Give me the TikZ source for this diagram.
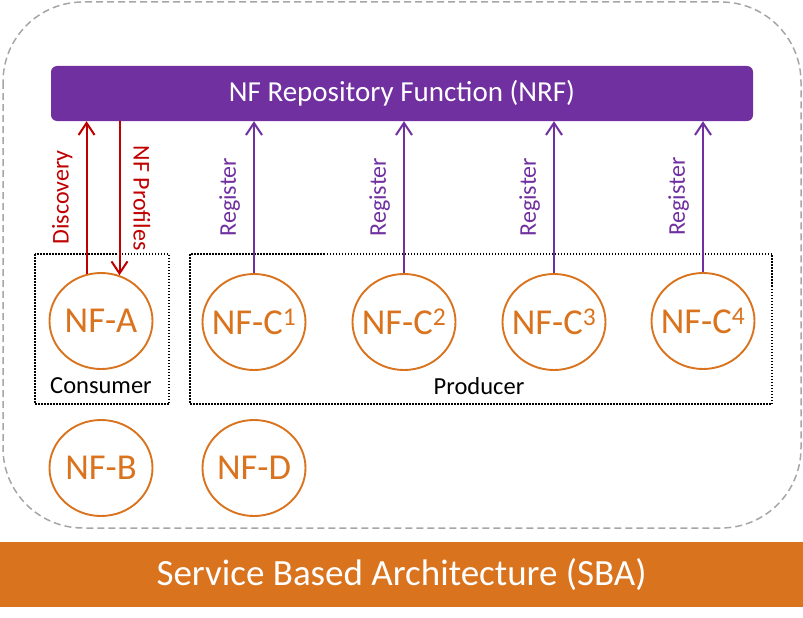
\documentclass[tikz,border=0pt]{standalone}
\usepackage{fontspec}
\setmainfont{Carlito}
\usetikzlibrary{arrows.meta,shapes.geometric}
\definecolor{nrfpurple}{RGB}{112,48,160}
\definecolor{sbaorange}{RGB}{217,115,30}
\definecolor{discred}{RGB}{192,0,0}
\definecolor{edgegray}{RGB}{166,166,166}

\begin{document}
\begin{tikzpicture}[x=1pt,y=-1pt,
  nf/.style={ellipse,draw=sbaorange,line width=1.9pt,minimum width=103pt,minimum height=96pt,inner xsep=-14pt,inner ysep=0pt,text=sbaorange,font=\fontsize{36.5}{40}\selectfont},
  msg/.style={line width=2pt,-{Straight Barb[length=12pt,width=16pt]}},
  msgtext/.style={rotate=90,anchor=south,inner sep=0pt,outer sep=14pt,font=\fontsize{24}{26}\selectfont},
  grouptext/.style={font=\fontsize{24.5}{26}\selectfont},
  groupbox/.style={line width=1.5pt,dash pattern=on 1.5pt off 1.5pt}]
\useasboundingbox (0,0) rectangle (803,618);
% outer dashed frame
\draw[edgegray,line width=1.5pt,dash pattern=on 7pt off 4pt,rounded corners=80pt] (3,2) rectangle (801,528);
% bars
\draw (402,93.5) node[rectangle,fill=nrfpurple,rounded corners=6pt,minimum width=702pt,minimum height=55pt,text=white,font=\fontsize{29}{32}\selectfont](nrf) {NF Repository Function (NRF)};
\draw (401.5,574.5) node[rectangle,fill=sbaorange,minimum width=803pt,minimum height=65pt,text=white,font=\fontsize{37}{40}\selectfont](sba) {Service Based Architecture (SBA)};
% network functions
\draw (101,321) node[nf](nfa) {NF-A};
\draw (254,322) node[nf](nfc1) {NF-C\textsuperscript{1}};
\draw (404,322) node[nf](nfc2) {NF-C\textsuperscript{2}};
\draw (554,322) node[nf](nfc3) {NF-C\textsuperscript{3}};
\draw (703,321) node[nf](nfc4) {NF-C\textsuperscript{4}};
\draw (101,468) node[nf](nfb) {NF-B};
\draw (254,468) node[nf](nfd) {NF-D};
% consumer / producer
\draw[groupbox] (35,254) rectangle (169,404);
\draw[groupbox] (190,254) rectangle (772,404);
\draw (101,386) node[grouptext](consumer) {Consumer};
\draw (479,386) node[grouptext](producer) {Producer};
% discovery
\draw[msg,discred] (nfa.107) -- (nfa.107 |- nrf.south) node[midway,msgtext,text=discred] {Discovery};
\draw[msg,discred] (nfa.68 |- nrf.south) -- (nfa.68) node[midway,msgtext,rotate=180,text=discred] {NF Profiles};
% registration
\draw[msg,nrfpurple] (nfc1.north) -- (nfc1.north |- nrf.south) node[midway,msgtext,text=nrfpurple] {Register};
\draw[msg,nrfpurple] (nfc2.north) -- (nfc2.north |- nrf.south) node[midway,msgtext,text=nrfpurple] {Register};
\draw[msg,nrfpurple] (nfc3.north) -- (nfc3.north |- nrf.south) node[midway,msgtext,text=nrfpurple] {Register};
\draw[msg,nrfpurple] (nfc4.north) -- (nfc4.north |- nrf.south) node[midway,msgtext,text=nrfpurple] {Register};
\end{tikzpicture}
\end{document}
